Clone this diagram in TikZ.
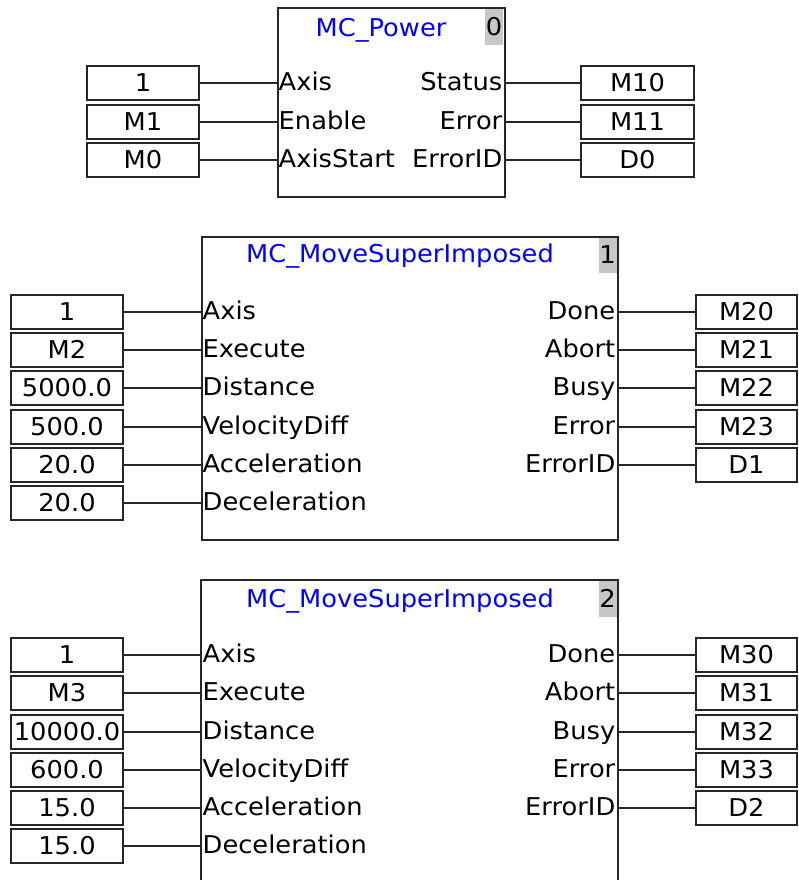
\documentclass[tikz,border=0pt]{standalone}
\usepackage{fontspec}
\setmainfont[FakeStretch=1.05]{DejaVu Sans}
\begin{document}
\begin{tikzpicture}[x=1pt,y=-1pt,
  every node/.style={font=\fontsize{24.5}{28}\selectfont, text height=17.5pt, text depth=0pt},
  ln/.style={line width=1.8pt, draw=black!85},
  blk/.style={rectangle, ln, inner sep=0pt, anchor=north west},
  val/.style={rectangle, ln, inner sep=0pt, minimum height=34pt},
  idx/.style={rectangle, fill=black!22, inner sep=0pt, minimum width=18pt, minimum height=36pt},
  ttl/.style={text=blue, inner sep=0pt},
  lin/.style={inner sep=1.5pt, anchor=west},
  lout/.style={inner sep=1.5pt, anchor=east}]
\clip (0,0) rectangle (799,880);
\fill[white] (0,0) rectangle (799,880);

% ---------- Block 0: MC_Power ----------
\node[idx] (n0) at (494,27) {0};
\node[blk, minimum width=227pt, minimum height=189pt] (b0) at (277,7) {};
\node[ttl] (t0) at (381,27.5) {MC\_Power};
\foreach \v/\l/\y [count=\i] in {1/Axis/83, M1/Enable/122, M0/AxisStart/160}{
  \node[val, minimum width=112pt] (b0v\i) at (143,\y) {\v};
  \node[lin] (b0l\i) at (277,\y-1) {\l};
  \draw[ln] (b0v\i.east) -- (b0v\i.east -| b0.west);
}
\foreach \v/\l/\y [count=\i] in {M10/Status/83, M11/Error/122, D0/ErrorID/160}{
  \node[val, minimum width=113pt] (b0o\i) at (637.5,\y) {\v};
  \node[lout] (b0r\i) at (504,\y-1) {\l};
  \draw[ln] (b0o\i.west -| b0.east) -- (b0o\i.west);
}

% ---------- Block 1: MC_MoveSuperImposed ----------
\node[idx] (n1) at (607.5,254.5) {1};
\node[blk, minimum width=416pt, minimum height=303pt] (b1) at (201,236) {};
\node[ttl] (t1) at (400,254) {MC\_MoveSuperImposed};
\foreach \v/\l/\y [count=\i] in {1/Axis/312, M2/Execute/350, 5000.0/Distance/388, 500.0/VelocityDiff/427, 20.0/Acceleration/465, 20.0/Deceleration/503}{
  \node[val, minimum width=112pt] (b1v\i) at (67,\y) {\v};
  \node[lin] (b1l\i) at (201,\y-1) {\l};
  \draw[ln] (b1v\i.east) -- (b1v\i.east -| b1.west);
}
\foreach \v/\l/\y [count=\i] in {M20/Done/312, M21/Abort/350, M22/Busy/388, M23/Error/427, D1/ErrorID/465}{
  \node[val, minimum width=101pt] (b1o\i) at (746.5,\y) {\v};
  \node[lout] (b1r\i) at (617,\y-1) {\l};
  \draw[ln] (b1o\i.west -| b1.east) -- (b1o\i.west);
}

% ---------- Block 2: MC_MoveSuperImposed (cut at bottom) ----------
\node[idx] (n2) at (607.5,599) {2};
\node[rectangle, inner sep=0pt, anchor=north west, minimum width=416.6pt, minimum height=320pt] (b2) at (200.8,580) {};
\draw[ln] (b2.south west) -- (b2.north west) -- (b2.north east) -- (b2.south east);
\node[ttl] (t2) at (400,599) {MC\_MoveSuperImposed};
\foreach \v/\l/\y [count=\i] in {1/Axis/655, M3/Execute/693, 10000.0/Distance/732, 600.0/VelocityDiff/770, 15.0/Acceleration/808, 15.0/Deceleration/846}{
  \node[val, minimum width=112pt] (b2v\i) at (67,\y) {\v};
  \node[lin] (b2l\i) at (201,\y-1) {\l};
  \draw[ln] (b2v\i.east) -- (b2v\i.east -| b2.west);
}
\foreach \v/\l/\y [count=\i] in {M30/Done/655, M31/Abort/693, M32/Busy/732, M33/Error/770, D2/ErrorID/808}{
  \node[val, minimum width=101pt] (b2o\i) at (746.5,\y) {\v};
  \node[lout] (b2r\i) at (617,\y-1) {\l};
  \draw[ln] (b2o\i.west -| b2.east) -- (b2o\i.west);
}
\end{tikzpicture}
\end{document}
